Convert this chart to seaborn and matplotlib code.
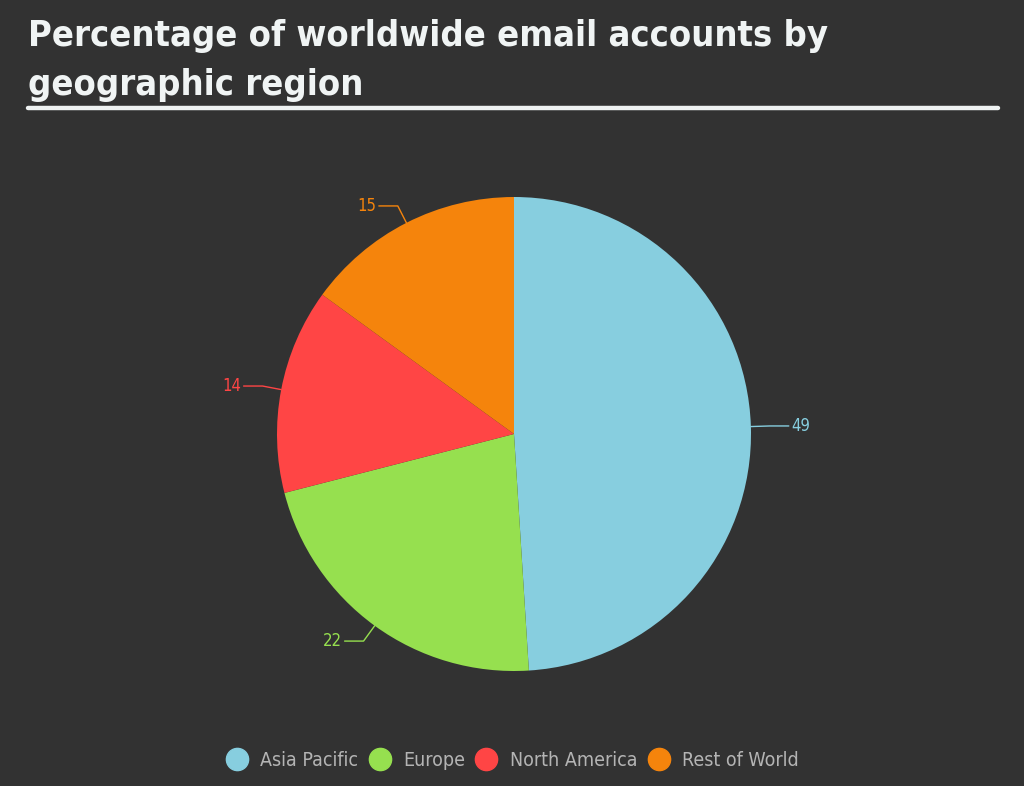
import numpy as np
import seaborn as sns
import matplotlib.pyplot as plt
from matplotlib.lines import Line2D

regions = ['Asia Pacific', 'Europe', 'North America', 'Rest of World']
shares = [49, 22, 14, 15]
colors = ['#87CEDF', '#96E04F', '#FF4545', '#F5840C']
title_lines = ['Percentage of worldwide email accounts by', 'geographic region']

bg = '#323232'
sns.set_theme(style='white')
plt.rcParams['font.family'] = ['DejaVu Sans']

fig = plt.figure(figsize=(10.24, 7.86), dpi=100, facecolor=bg)

# title, one text per line, sized so line 1 is as wide as in the reference
t1 = fig.text(28 / 1024, 1 - 46 / 786, title_lines[0], ha='left', va='baseline',
              fontsize=31, fontweight='bold', color='#F0F4F4', fontstretch='condensed')
r = fig.canvas.get_renderer()
size = 31 * 800 / t1.get_window_extent(r).width
t1.set_fontsize(size)
fig.text(28 / 1024, 1 - 95 / 786, title_lines[1], ha='left', va='baseline',
         fontsize=size, fontweight='bold', color='#F0F4F4', fontstretch='condensed')
fig.add_artist(Line2D([28 / 1024, 998 / 1024], [1 - 108 / 786] * 2, color='#EEF2F2', lw=3.2))

# pie: radius 1 -> 237 px, centre at (514, 434)
L = 300 / 237
ax = fig.add_axes([214 / 1024, 52 / 786, 600 / 1024, 600 / 786])
ax.set_facecolor(bg)
wedges, _ = ax.pie(shares, colors=colors, startangle=90, counterclock=False,
                   wedgeprops=dict(linewidth=0))
ax.set_xlim(-L, L)
ax.set_ylim(-L, L)
ax.set_aspect('equal')
ax.axis('off')

for wd, v, c in zip(wedges, shares, colors):
    ang = np.deg2rad((wd.theta1 + wd.theta2) / 2)
    x0, y0 = np.cos(ang), np.sin(ang)
    x1, y1 = 1.08 * x0, 1.08 * y0
    side = 1 if x0 >= 0 else -1
    x2 = x1 + side * 0.08
    ax.plot([x0, x1, x2], [y0, y1, y1], color=c, lw=1)
    ax.text(x2 + side * 0.01, y1, str(v), color=c, fontsize=12, fontstretch='condensed',
            ha='left' if side > 0 else 'right', va='center')

handles = [Line2D([], [], marker='o', ls='', markersize=16, markerfacecolor=c,
                  markeredgecolor=c) for c in colors]
fig.legend(handles, regions, loc='center', bbox_to_anchor=(0.5, 1 - 760 / 786),
           ncol=4, frameon=False, prop=dict(size=14, stretch='condensed'),
           labelcolor='#B4B4B4', handletextpad=0.6, columnspacing=0.5, handlelength=1.2)

fig.savefig('out.png', dpi=100, facecolor=bg)
